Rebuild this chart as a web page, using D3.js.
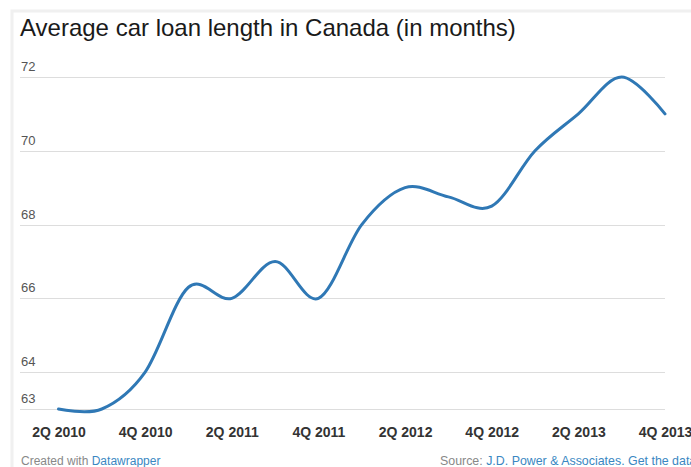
<!DOCTYPE html>
<html>
<head>
<meta charset="utf-8">
<script src="https://cdn.jsdelivr.net/npm/d3@7"></script>
<style>
  html, body { margin: 0; padding: 0; background: #fff; overflow: hidden; }
  svg { display: block; font-family: "Liberation Sans", Arial, sans-serif; }
</style>
</head>
<body>
<svg id="chart" width="691" height="467"></svg>
<script>
const title = "Average car loan length in Canada (in months)";
const quarters = ["2Q 2010","3Q 2010","4Q 2010","1Q 2011","2Q 2011","3Q 2011","4Q 2011",
                  "1Q 2012","2Q 2012","3Q 2012","4Q 2012","1Q 2013","2Q 2013","3Q 2013","4Q 2013"];
const loanMonths = [63, 63, 64, 66.3, 66, 67, 66, 68, 69, 68.75, 68.5, 70, 71, 72, 71];
const yTicks = [63, 64, 66, 68, 70, 72];
const xTickLabels = ["2Q 2010","4Q 2010","2Q 2011","4Q 2011","2Q 2012","4Q 2012","2Q 2013","4Q 2013"];

const svg = d3.select("#chart");

// frame shadow
svg.append("rect").attr("x", 12).attr("y", 11).attr("width", 700).attr("height", 470)
  .attr("fill", "#fff").attr("stroke", "#f0f0f0").attr("stroke-width", 3);

svg.append("text").attr("x", 20).attr("y", 36)
  .attr("font-size", 24).attr("fill", "#1a1a1a").text(title);

const x = d3.scalePoint().domain(quarters).range([58.5, 665]);
const y = d3.scaleLinear().domain([63, 72]).range([409, 77]);

// gridlines + labels
const grid = svg.append("g");
yTicks.forEach(v => {
  grid.append("line").attr("x1", 20).attr("x2", 665)
    .attr("y1", Math.round(y(v)) + 0.5).attr("y2", Math.round(y(v)) + 0.5)
    .attr("stroke", "#dddddd").attr("stroke-width", 1);
  grid.append("text").attr("x", 21).attr("y", y(v) - 6)
    .attr("font-size", 13).attr("fill", "#555").text(v);
});

// x axis
const xAxis = d3.axisBottom(x).tickValues(xTickLabels).tickSize(0).tickPadding(0);
const gx = svg.append("g").attr("transform", "translate(0,427)").call(xAxis);
gx.select(".domain").remove();
gx.selectAll("text").attr("font-size", 14).attr("font-weight", "bold")
  .attr("fill", "#333").attr("font-family", "'Liberation Sans', Arial, sans-serif");

// line
const line = d3.line()
  .x((d, i) => x(quarters[i]))
  .y(d => y(d))
  .curve(d3.curveCardinal.tension(0));
svg.append("path").datum(loanMonths).attr("d", line)
  .attr("fill", "none").attr("stroke", "#2f78b5").attr("stroke-width", 3)
  .attr("stroke-linecap", "round").attr("stroke-linejoin", "round");

// footer
const f1 = svg.append("text").attr("x", 21).attr("y", 465).attr("font-size", 12).attr("fill", "#888");
f1.append("tspan").text("Created with ");
f1.append("tspan").attr("fill", "#3a87c2").text("Datawrapper");

const f2 = svg.append("text").attr("x", 440).attr("y", 465).attr("font-size", 12.4).attr("fill", "#888");
f2.append("tspan").text("Source: ");
f2.append("tspan").attr("fill", "#3a87c2").text("J.D. Power & Associates");
f2.append("tspan").attr("fill", "#3a87c2").text(". Get the data");
</script>
</body>
</html>
